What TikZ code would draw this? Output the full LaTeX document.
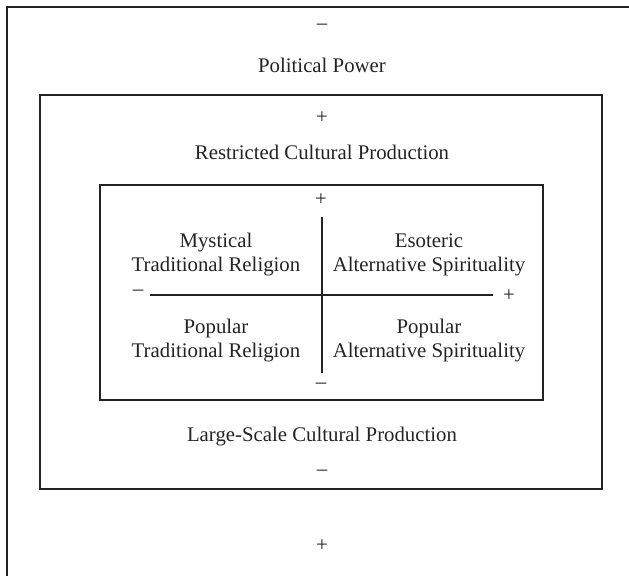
\documentclass[tikz,border=0pt]{standalone}
\usepackage{fontspec}
\setmainfont{Liberation Serif}
\definecolor{frameink}{RGB}{35,35,35}

\begin{document}
\begin{tikzpicture}[x=0.5pt, y=-0.5pt,
  frame/.style={draw=frameink, line width=1.2pt},
  axis/.style={draw=frameink, line width=1.3pt},
  tag/.style={align=center, inner sep=0pt, text=frameink, font=\fontsize{10.4}{12}\selectfont}]
\useasboundingbox (0,0) rectangle (629,576);
\clip (0,0) rectangle (629,576);

% Frames
\draw[frame] (7,7) rectangle (660,620);
\draw[frame] (40,95) rectangle (602,489);
\draw[frame] (100,185) rectangle (543,400);

% Political power
\node[tag] (powerminus) at (322,27) {\textendash};
\node[tag] (power) at (322,65) {Political Power};
\node[tag] (powerplus) at (322,546) {+};

% Cultural production
\node[tag] (restrictedplus) at (322,118) {+};
\node[tag] (restricted) at (322,152) {Restricted Cultural Production};
\node[tag] (largescale) at (322,437) {Large-Scale Cultural Production};
\node[tag] (largescaleminus) at (322,473) {\textendash};

% Axes
\node[tag] (vplus) at (321,200) {+};
\node[tag] (vminus) at (321,386) {\textendash};
\node[tag] (hminus) at (138,293) {\textendash};
\node[tag] (hplus) at (509,296) {+};
\coordinate (vtop) at (322,217);
\coordinate (vbot) at (322,373);
\coordinate (hleft) at (150,295);
\coordinate (hright) at (493,295);
\draw[axis] (vtop) -- (vbot);
\draw[axis] (hleft) -- (hright);

% Quadrants
\node[tag] (mystical) at (216,255) {Mystical\\Traditional Religion};
\node[tag] (esoteric) at (429,255) {Esoteric\\Alternative Spirituality};
\node[tag] (poptrad) at (216,341) {Popular\\Traditional Religion};
\node[tag] (popalt) at (429,341) {Popular\\Alternative Spirituality};
\end{tikzpicture}
\end{document}
